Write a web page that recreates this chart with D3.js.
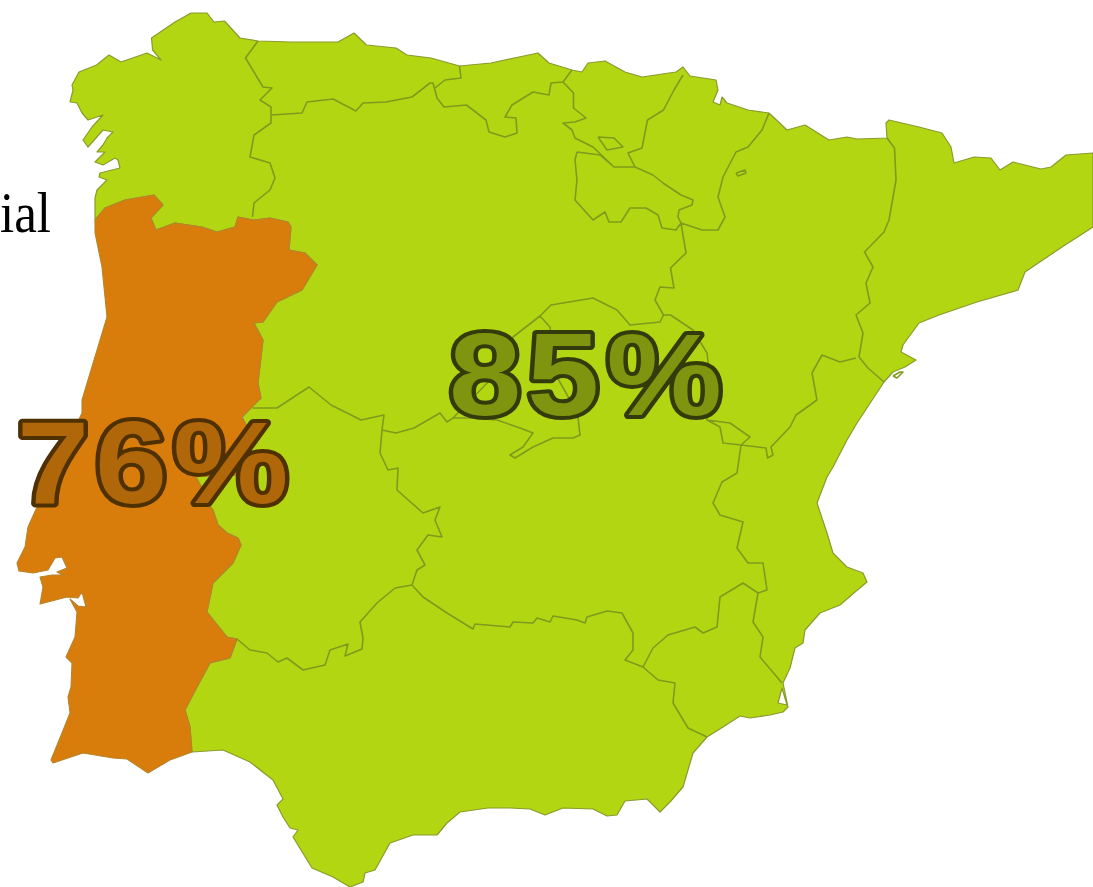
<!DOCTYPE html>
<html><head><meta charset="utf-8">
<script src="https://cdn.jsdelivr.net/npm/d3@7/dist/d3.min.js"></script>
<style>html,body{margin:0;padding:0;background:#fff;overflow:hidden}svg{display:block}</style>
</head><body><svg id="map" width="1093" height="887"></svg>
<script>
const sharedBorder=[[192,752],[190,727],[185,710],[197,687],[210,663],[230,658],[237,639],[227,637],[207,612],[213,583],[233,563],[241,545],[238,538],[227,533],[218,525],[213,510],[207,503],[203,490],[195,475],[213,477],[237,475],[248,453],[253,438],[242,417],[261,398],[258,383],[263,340],[254,323],[263,322],[277,302],[302,290],[317,265],[305,253],[289,250],[291,227],[288,222],[270,218],[254,220],[238,217],[235,227],[217,232],[202,227],[175,223],[156,230],[151,218],[163,205],[154,195],[125,200],[105,208],[95,220]];
const spainCoast=[[95,198],[97,190],[107,180],[99,177],[100,173],[120,168],[118,160],[115,158],[103,165],[95,162],[102,155],[105,152],[97,152],[103,145],[107,138],[113,132],[103,130],[88,147],[83,140],[92,127],[103,115],[88,120],[82,113],[77,103],[70,102],[73,90],[72,85],[79,72],[96.5,65],[109,55],[121,62],[147,53],[161,60],[152.6,50],[151.5,38],[175,22],[191,13],[207,13],[214,22],[224.5,21],[240,38],[258,41],[291,42],[316,42],[338,42],[354,33],[366.5,45],[396,48],[407,55],[431,58],[459.5,66],[491,63],[519,57],[538,53],[549,63],[572,70],[582,72],[588,63],[605,61],[625,72],[642,77],[676,72],[683,67],[690,76],[716,80],[718,90],[713,102],[720,105],[722,97],[727,103],[748,110],[769,113],[787,130],[805,125],[829,140],[847,137],[857,139],[887,138],[886,123],[889,120],[919,127],[942,133],[951,147],[954,163],[974,157],[991,158],[1000,170],[1013,162],[1041,169],[1051,167],[1066,155],[1093,153],[1093,227],[1062,247],[1025,272],[1018,290],[977,302],[939,315],[919,323],[903,345],[901,352],[916,360],[905,367],[893,372],[884,382],[857,423],[847,440],[833,467],[827,477],[817,503],[827,533],[833,553],[847,567],[863,573],[867,582],[855,592],[840,605],[820,613],[805,630],[803,643],[795,648],[790,668],[783,683],[788,707],[783,712],[770,715],[750,718],[740,716],[723,727],[707,737],[693,753],[683,787],[670,802],[660,812],[647,799],[625,801],[617,815],[607,816],[593,809],[563,808],[545,815],[530,809],[510,808],[488,808],[460,812],[447,823],[437,835],[413,835],[390,843],[375,870],[365,873],[363,882],[350,887],[333,877],[312,868],[293,837],[298,830],[290,828],[283,817],[277,805],[283,799],[273,780],[250,762],[223,750]];
const portugalCoast=[[95,220],[95,233],[102,267],[107,317],[82,400],[82,413],[37,507],[28,527],[25,547],[17,563],[19,571],[33,573],[48,570],[55,558],[62,557],[67,568],[57,572],[63,575],[52,575],[40,577],[43,587],[40,604],[67,597],[78,598],[82,592],[86,607],[78,606],[70,599],[77,612],[75,637],[66,657],[72,663],[71,687],[68,697],[70,713],[62,733],[51,760],[53,763],[83,753],[113,758],[127,759],[148,773],[170,760]];
const marMenor=[[782,688],[787,705],[778,703],[776,697]];
const regionBorders=[
[[258,41],[245.5,58],[263,87],[272,88],[260,100],[271,107],[271,123],[254,135],[250,157],[270,163],[275,178],[270,190],[254,203],[252.5,217]],
[[271,115],[302,113],[307,102],[333,99],[356,111],[363,103],[386,102],[412,97],[430,83],[433,83],[437,98],[444,107],[466.5,105],[486,120],[489,132],[505,137],[517,133],[516,118],[505,117],[512,105],[533,92],[549,95],[551,83],[563,82]],
[[459.5,66],[461,78],[445,80],[435,88]],
[[572,70],[563,82],[573.5,93],[573.5,108],[586,118],[575,122],[563,123],[572,130],[575,138],[593,147],[614,167],[635,167]],
[[683,75],[674,90],[663.5,110],[647.5,120],[642,148],[628,153],[635,167]],
[[598,137],[614,138],[623,147],[607,150],[598,137]],
[[577,152],[575,160],[577,180],[575,200],[593,220],[605,212],[609,222],[621,222],[630,208],[646,208],[658,215],[662,228],[676,230],[681,223]],
[[577,152],[600,155],[614,167]],
[[635,167],[653,175],[663,183],[681,195],[693,200],[692,205],[679,210],[678,217],[681,223]],
[[769,113],[762,130],[748,147],[736,152],[723,177],[718,197],[725,217],[718,230],[702,230],[681,223]],
[[681,223],[686,253],[670.5,268],[674,288],[660,287],[655,300],[663.5,315],[670.5,315],[693,330],[707,353],[709,370],[706,407],[707,420],[720,427],[723,443],[741,445],[766,448],[767.5,458],[773,455],[771,447],[790,427],[796,415],[817,400],[812,373],[822,355],[840,362],[856,358]],
[[707,420],[730,423],[750,437],[741,445]],
[[887,138],[894.5,148],[896,180],[889,220],[884,232],[864.5,252],[873,267],[866,283],[870,303],[856,315],[863,333],[859,357],[868,368],[884,382]],
[[663.5,315],[660,322],[630,325],[617,310],[593,298],[551,305],[540,316],[513,337],[490,380],[453,418],[447,422],[440,413],[414,428],[396,433],[382,430]],
[[453,418],[470,418],[497,420],[520,428],[533,433],[523,447],[510,455],[515,458],[533,447],[553,438],[573,438],[580,435],[578,417],[570,400],[557,377],[550,327],[540,316]],
[[252.5,408],[277,408],[309,387],[331,405],[361,420],[384,415],[382,430],[380,453],[388,470],[398,468],[397,490],[423,513],[440,507],[435,520],[442,537],[428,535],[417,550],[425,565],[417,570],[412,585]],
[[237,639],[250,650],[267,653],[278,662],[287,658],[303,670],[325,665],[330,650],[348,644],[345,656],[362,649],[363,638],[360,622],[377,603],[395,588],[412,585]],
[[412,585],[423,597],[447,613],[473,629],[475,624],[510,627],[513,622],[533,623],[537,618],[550,622],[553,616],[577,620],[585,623],[587,617],[607,611],[622,613],[633,633],[633,650],[625,660],[643,667]],
[[643,667],[658,680],[675,683],[673,703],[688,728],[707,737]],
[[643,667],[653,648],[668,635],[695,627],[703,633],[717,627],[720,597],[743,583],[758,593]],
[[758,593],[753,622],[763,637],[760,657],[782,683]],
[[741,445],[737,473],[722,482],[713,503],[720,515],[743,522],[737,548],[748,563],[763,563],[767,590],[758,593]],
[[736,173],[745,170],[746,173],[738,176],[736,173]],
[[893,376],[900,372],[903,372],[897,378],[893,376]]
];
const labelTexts=["85%","76%"];
const labelGlyphX=[[449,527,606.5],[17,95,173]];
const labelBaselines=[415,503];
const labelFills=["#7f940f","#b0670a"];
const labelStrokes=["#333b0c","#4f3000"];
const labelStretch=1.12;

const svg=d3.select("#map");
const path=d3.geoPath(d3.geoIdentity());
const poly=(rings)=>({type:"Polygon",coordinates:rings});
const spainRing=[...spainCoast,...sharedBorder,spainCoast[0]];
const portRing=[...portugalCoast,...sharedBorder,portugalCoast[0]];

svg.append("path").datum(poly([spainRing,marMenor])).attr("d",path)
  .attr("fill","#b3d613").attr("fill-rule","evenodd").attr("stroke","#8a9a2c").attr("stroke-width",1.2).attr("stroke-linejoin","round");
svg.append("path").datum({type:"MultiLineString",coordinates:regionBorders}).attr("d",path)
  .attr("fill","none").attr("stroke","#7f9a1c").attr("stroke-width",1.6).attr("stroke-linejoin","round");
svg.append("path").datum(poly([portRing])).attr("d",path)
  .attr("fill","#d87d0b").attr("stroke","#b5842a").attr("stroke-width",1.1).attr("stroke-linejoin","round");

svg.append("text").attr("x",0).attr("y",232).attr("textLength",51).attr("lengthAdjust","spacingAndGlyphs")
  .attr("font-family","'Liberation Serif',serif").attr("font-size",56).attr("fill","#000").text("ial");

labelTexts.forEach((t,i)=>{
  svg.append("text").attr("transform",`scale(${labelStretch},1)`)
    .attr("x",labelGlyphX[i].map(v=>v/labelStretch).join(" ")).attr("y",labelBaselines[i])
    .attr("font-family","'Liberation Sans',Arial,sans-serif").attr("font-weight","bold").attr("font-size",116)
    .attr("stroke-linejoin","round").attr("paint-order","stroke")
    .attr("fill",labelFills[i]).attr("stroke",labelStrokes[i]).attr("stroke-width",8).text(t);
});
</script></body></html>
